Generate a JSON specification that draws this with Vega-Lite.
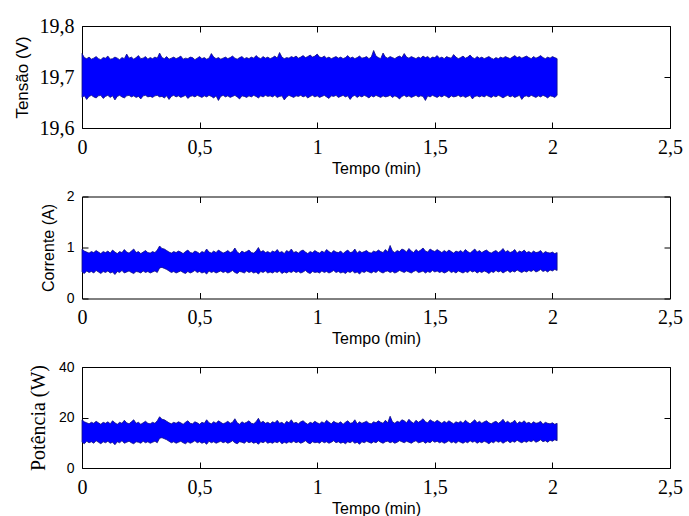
{
"$schema": "https://vega.github.io/schema/vega-lite/v6.json",
"background": "white",
"padding": {"left": 12, "top": 15, "right": 5, "bottom": 2},
"spacing": 68.5,
"bounds": "flush",
"config": {
  "view": {"stroke": "black", "strokeWidth": 1},
  "axis": {"domain": false, "grid": false, "ticks": true, "tickColor": "black", "tickSize": -6, "labelFlush": false, "labelOverlap": false, "labelColor": "black", "titleColor": "black", "titleFontWeight": "normal", "labelFont": "Liberation Serif", "labelFontSize": 20, "titleFont": "Liberation Sans"}
},
"datasets": {"d": [
{"t":0,"vh":19.746,"vl":19.66,"ih":0.97,"il":0.52,"ph":19.1,"pl":10.2},
{"t":0.01,"vh":19.738,"vl":19.663,"ih":0.93,"il":0.49,"ph":18.3,"pl":9.6},
{"t":0.02,"vh":19.736,"vl":19.656,"ih":0.91,"il":0.54,"ph":17.9,"pl":10.6},
{"t":0.03,"vh":19.739,"vl":19.662,"ih":0.89,"il":0.51,"ph":17.5,"pl":10.0},
{"t":0.04,"vh":19.735,"vl":19.664,"ih":0.92,"il":0.53,"ph":18.1,"pl":10.4},
{"t":0.05,"vh":19.737,"vl":19.661,"ih":0.90,"il":0.50,"ph":17.7,"pl":9.8},
{"t":0.06,"vh":19.740,"vl":19.659,"ih":0.94,"il":0.55,"ph":18.5,"pl":10.8},
{"t":0.07,"vh":19.736,"vl":19.663,"ih":0.91,"il":0.52,"ph":17.9,"pl":10.2},
{"t":0.08,"vh":19.734,"vl":19.664,"ih":0.88,"il":0.49,"ph":17.3,"pl":9.6},
{"t":0.09,"vh":19.738,"vl":19.658,"ih":0.92,"il":0.53,"ph":18.1,"pl":10.4},
{"t":0.10,"vh":19.737,"vl":19.662,"ih":0.90,"il":0.51,"ph":17.7,"pl":10.0},
{"t":0.11,"vh":19.741,"vl":19.664,"ih":0.93,"il":0.54,"ph":18.3,"pl":10.6},
{"t":0.12,"vh":19.735,"vl":19.66,"ih":0.89,"il":0.50,"ph":17.5,"pl":9.8},
{"t":0.13,"vh":19.736,"vl":19.663,"ih":0.95,"il":0.52,"ph":18.7,"pl":10.2},
{"t":0.14,"vh":19.739,"vl":19.655,"ih":0.91,"il":0.47,"ph":17.9,"pl":9.2},
{"t":0.15,"vh":19.737,"vl":19.662,"ih":0.88,"il":0.53,"ph":17.3,"pl":10.4},
{"t":0.16,"vh":19.734,"vl":19.664,"ih":0.92,"il":0.51,"ph":18.1,"pl":10.0},
{"t":0.17,"vh":19.738,"vl":19.661,"ih":0.90,"il":0.55,"ph":17.7,"pl":10.8},
{"t":0.18,"vh":19.736,"vl":19.659,"ih":0.96,"il":0.50,"ph":18.9,"pl":9.8},
{"t":0.19,"vh":19.745,"vl":19.663,"ih":0.91,"il":0.52,"ph":17.9,"pl":10.2},
{"t":0.20,"vh":19.737,"vl":19.664,"ih":0.89,"il":0.54,"ph":17.5,"pl":10.6},
{"t":0.21,"vh":19.739,"vl":19.661,"ih":0.93,"il":0.51,"ph":18.3,"pl":10.0},
{"t":0.22,"vh":19.735,"vl":19.663,"ih":0.97,"il":0.49,"ph":19.1,"pl":9.6},
{"t":0.23,"vh":19.738,"vl":19.66,"ih":0.90,"il":0.53,"ph":17.7,"pl":10.4},
{"t":0.24,"vh":19.742,"vl":19.662,"ih":0.92,"il":0.52,"ph":18.1,"pl":10.2},
{"t":0.25,"vh":19.736,"vl":19.657,"ih":0.88,"il":0.50,"ph":17.3,"pl":9.8},
{"t":0.26,"vh":19.737,"vl":19.663,"ih":0.91,"il":0.54,"ph":17.9,"pl":10.6},
{"t":0.27,"vh":19.740,"vl":19.664,"ih":0.94,"il":0.51,"ph":18.5,"pl":10.0},
{"t":0.28,"vh":19.735,"vl":19.661,"ih":0.90,"il":0.53,"ph":17.7,"pl":10.4},
{"t":0.29,"vh":19.738,"vl":19.662,"ih":0.89,"il":0.50,"ph":17.5,"pl":9.8},
{"t":0.30,"vh":19.736,"vl":19.66,"ih":0.92,"il":0.52,"ph":18.1,"pl":10.2},
{"t":0.31,"vh":19.739,"vl":19.663,"ih":0.90,"il":0.54,"ph":17.7,"pl":10.6},
{"t":0.32,"vh":19.737,"vl":19.664,"ih":0.95,"il":0.51,"ph":18.7,"pl":10.0},
{"t":0.33,"vh":19.747,"vl":19.661,"ih":1.03,"il":0.60,"ph":20.3,"pl":11.8},
{"t":0.34,"vh":19.738,"vl":19.662,"ih":0.98,"il":0.61,"ph":19.3,"pl":12.0},
{"t":0.35,"vh":19.736,"vl":19.659,"ih":0.97,"il":0.59,"ph":19.1,"pl":11.6},
{"t":0.36,"vh":19.740,"vl":19.663,"ih":0.94,"il":0.57,"ph":18.5,"pl":11.2},
{"t":0.37,"vh":19.735,"vl":19.656,"ih":0.91,"il":0.54,"ph":17.9,"pl":10.6},
{"t":0.38,"vh":19.737,"vl":19.662,"ih":0.89,"il":0.51,"ph":17.5,"pl":10.0},
{"t":0.39,"vh":19.739,"vl":19.664,"ih":0.92,"il":0.53,"ph":18.1,"pl":10.4},
{"t":0.40,"vh":19.736,"vl":19.661,"ih":0.90,"il":0.50,"ph":17.7,"pl":9.8},
{"t":0.41,"vh":19.738,"vl":19.663,"ih":0.93,"il":0.52,"ph":18.3,"pl":10.2},
{"t":0.42,"vh":19.741,"vl":19.66,"ih":0.91,"il":0.54,"ph":17.9,"pl":10.6},
{"t":0.43,"vh":19.735,"vl":19.662,"ih":0.88,"il":0.51,"ph":17.3,"pl":10.0},
{"t":0.44,"vh":19.737,"vl":19.664,"ih":0.92,"il":0.49,"ph":18.1,"pl":9.6},
{"t":0.45,"vh":19.736,"vl":19.658,"ih":0.95,"il":0.53,"ph":18.7,"pl":10.4},
{"t":0.46,"vh":19.739,"vl":19.662,"ih":0.90,"il":0.50,"ph":17.7,"pl":9.8},
{"t":0.47,"vh":19.738,"vl":19.663,"ih":0.89,"il":0.52,"ph":17.5,"pl":10.2},
{"t":0.48,"vh":19.734,"vl":19.661,"ih":0.93,"il":0.55,"ph":18.3,"pl":10.8},
{"t":0.49,"vh":19.737,"vl":19.664,"ih":0.91,"il":0.51,"ph":17.9,"pl":10.0},
{"t":0.50,"vh":19.740,"vl":19.662,"ih":0.88,"il":0.53,"ph":17.3,"pl":10.4},
{"t":0.51,"vh":19.736,"vl":19.66,"ih":0.92,"il":0.50,"ph":18.1,"pl":9.8},
{"t":0.52,"vh":19.738,"vl":19.663,"ih":0.90,"il":0.52,"ph":17.7,"pl":10.2},
{"t":0.53,"vh":19.735,"vl":19.661,"ih":0.97,"il":0.48,"ph":19.1,"pl":9.4},
{"t":0.54,"vh":19.737,"vl":19.664,"ih":0.91,"il":0.54,"ph":17.9,"pl":10.6},
{"t":0.55,"vh":19.746,"vl":19.662,"ih":0.89,"il":0.51,"ph":17.5,"pl":10.0},
{"t":0.56,"vh":19.739,"vl":19.659,"ih":0.93,"il":0.53,"ph":18.3,"pl":10.4},
{"t":0.57,"vh":19.736,"vl":19.663,"ih":0.90,"il":0.50,"ph":17.7,"pl":9.8},
{"t":0.58,"vh":19.738,"vl":19.654,"ih":0.95,"il":0.52,"ph":18.7,"pl":10.2},
{"t":0.59,"vh":19.735,"vl":19.662,"ih":0.92,"il":0.54,"ph":18.1,"pl":10.6},
{"t":0.60,"vh":19.737,"vl":19.664,"ih":0.89,"il":0.51,"ph":17.5,"pl":10.0},
{"t":0.61,"vh":19.739,"vl":19.661,"ih":0.91,"il":0.53,"ph":17.9,"pl":10.4},
{"t":0.62,"vh":19.736,"vl":19.663,"ih":0.94,"il":0.50,"ph":18.5,"pl":9.8},
{"t":0.63,"vh":19.738,"vl":19.66,"ih":0.90,"il":0.52,"ph":17.7,"pl":10.2},
{"t":0.64,"vh":19.741,"vl":19.662,"ih":0.92,"il":0.55,"ph":18.1,"pl":10.8},
{"t":0.65,"vh":19.737,"vl":19.664,"ih":0.99,"il":0.51,"ph":19.5,"pl":10.0},
{"t":0.66,"vh":19.735,"vl":19.661,"ih":0.91,"il":0.49,"ph":17.9,"pl":9.6},
{"t":0.67,"vh":19.738,"vl":19.657,"ih":0.88,"il":0.53,"ph":17.3,"pl":10.4},
{"t":0.68,"vh":19.740,"vl":19.663,"ih":0.93,"il":0.52,"ph":18.3,"pl":10.2},
{"t":0.69,"vh":19.736,"vl":19.662,"ih":0.90,"il":0.50,"ph":17.7,"pl":9.8},
{"t":0.70,"vh":19.738,"vl":19.66,"ih":0.92,"il":0.54,"ph":18.1,"pl":10.6},
{"t":0.71,"vh":19.736,"vl":19.663,"ih":0.95,"il":0.51,"ph":18.7,"pl":10.0},
{"t":0.72,"vh":19.739,"vl":19.661,"ih":0.90,"il":0.53,"ph":17.7,"pl":10.4},
{"t":0.73,"vh":19.737,"vl":19.664,"ih":0.89,"il":0.50,"ph":17.5,"pl":9.8},
{"t":0.74,"vh":19.742,"vl":19.662,"ih":0.93,"il":0.52,"ph":18.3,"pl":10.2},
{"t":0.75,"vh":19.738,"vl":19.659,"ih":1.00,"il":0.48,"ph":19.7,"pl":9.4},
{"t":0.76,"vh":19.736,"vl":19.663,"ih":0.91,"il":0.53,"ph":17.9,"pl":10.4},
{"t":0.77,"vh":19.740,"vl":19.661,"ih":0.94,"il":0.51,"ph":18.5,"pl":10.0},
{"t":0.78,"vh":19.737,"vl":19.664,"ih":0.90,"il":0.54,"ph":17.7,"pl":10.6},
{"t":0.79,"vh":19.739,"vl":19.662,"ih":0.92,"il":0.50,"ph":18.1,"pl":9.8},
{"t":0.80,"vh":19.736,"vl":19.663,"ih":0.89,"il":0.52,"ph":17.5,"pl":10.2},
{"t":0.81,"vh":19.738,"vl":19.661,"ih":0.93,"il":0.50,"ph":18.3,"pl":9.8},
{"t":0.82,"vh":19.741,"vl":19.664,"ih":0.91,"il":0.53,"ph":17.9,"pl":10.4},
{"t":0.83,"vh":19.737,"vl":19.66,"ih":0.96,"il":0.51,"ph":18.9,"pl":10.0},
{"t":0.84,"vh":19.748,"vl":19.662,"ih":0.90,"il":0.54,"ph":17.7,"pl":10.6},
{"t":0.85,"vh":19.739,"vl":19.663,"ih":0.92,"il":0.49,"ph":18.1,"pl":9.6},
{"t":0.86,"vh":19.736,"vl":19.655,"ih":0.88,"il":0.52,"ph":17.3,"pl":10.2},
{"t":0.87,"vh":19.738,"vl":19.661,"ih":0.94,"il":0.50,"ph":18.5,"pl":9.8},
{"t":0.88,"vh":19.737,"vl":19.664,"ih":0.91,"il":0.53,"ph":17.9,"pl":10.4},
{"t":0.89,"vh":19.740,"vl":19.662,"ih":0.97,"il":0.51,"ph":19.1,"pl":10.0},
{"t":0.90,"vh":19.738,"vl":19.66,"ih":0.90,"il":0.54,"ph":17.7,"pl":10.6},
{"t":0.91,"vh":19.741,"vl":19.663,"ih":0.92,"il":0.51,"ph":18.1,"pl":10.0},
{"t":0.92,"vh":19.737,"vl":19.662,"ih":0.89,"il":0.53,"ph":17.5,"pl":10.4},
{"t":0.93,"vh":19.739,"vl":19.664,"ih":0.93,"il":0.50,"ph":18.3,"pl":9.8},
{"t":0.94,"vh":19.742,"vl":19.661,"ih":0.95,"il":0.52,"ph":18.7,"pl":10.2},
{"t":0.95,"vh":19.738,"vl":19.663,"ih":0.91,"il":0.55,"ph":17.9,"pl":10.8},
{"t":0.96,"vh":19.740,"vl":19.659,"ih":0.88,"il":0.51,"ph":17.3,"pl":10.0},
{"t":0.97,"vh":19.743,"vl":19.662,"ih":0.92,"il":0.49,"ph":18.1,"pl":9.6},
{"t":0.98,"vh":19.739,"vl":19.664,"ih":0.90,"il":0.53,"ph":17.7,"pl":10.4},
{"t":0.99,"vh":19.741,"vl":19.661,"ih":0.94,"il":0.51,"ph":18.5,"pl":10.0},
{"t":1.00,"vh":19.745,"vl":19.663,"ih":0.91,"il":0.52,"ph":17.9,"pl":10.2},
{"t":1.01,"vh":19.739,"vl":19.66,"ih":0.89,"il":0.50,"ph":17.5,"pl":9.8},
{"t":1.02,"vh":19.738,"vl":19.662,"ih":0.93,"il":0.54,"ph":18.3,"pl":10.6},
{"t":1.03,"vh":19.741,"vl":19.664,"ih":0.90,"il":0.51,"ph":17.7,"pl":10.0},
{"t":1.04,"vh":19.737,"vl":19.661,"ih":0.96,"il":0.53,"ph":18.9,"pl":10.4},
{"t":1.05,"vh":19.739,"vl":19.658,"ih":0.92,"il":0.50,"ph":18.1,"pl":9.8},
{"t":1.06,"vh":19.736,"vl":19.663,"ih":0.89,"il":0.52,"ph":17.5,"pl":10.2},
{"t":1.07,"vh":19.738,"vl":19.662,"ih":0.94,"il":0.55,"ph":18.5,"pl":10.8},
{"t":1.08,"vh":19.740,"vl":19.664,"ih":0.91,"il":0.51,"ph":17.9,"pl":10.0},
{"t":1.09,"vh":19.737,"vl":19.66,"ih":0.90,"il":0.53,"ph":17.7,"pl":10.4},
{"t":1.10,"vh":19.739,"vl":19.662,"ih":0.93,"il":0.50,"ph":18.3,"pl":9.8},
{"t":1.11,"vh":19.736,"vl":19.664,"ih":0.88,"il":0.52,"ph":17.3,"pl":10.2},
{"t":1.12,"vh":19.738,"vl":19.661,"ih":0.92,"il":0.49,"ph":18.1,"pl":9.6},
{"t":1.13,"vh":19.742,"vl":19.663,"ih":0.95,"il":0.53,"ph":18.7,"pl":10.4},
{"t":1.14,"vh":19.737,"vl":19.656,"ih":0.90,"il":0.51,"ph":17.7,"pl":10.0},
{"t":1.15,"vh":19.739,"vl":19.662,"ih":0.91,"il":0.54,"ph":17.9,"pl":10.6},
{"t":1.16,"vh":19.736,"vl":19.664,"ih":0.97,"il":0.50,"ph":19.1,"pl":9.8},
{"t":1.17,"vh":19.738,"vl":19.66,"ih":0.89,"il":0.52,"ph":17.5,"pl":10.2},
{"t":1.18,"vh":19.741,"vl":19.663,"ih":0.93,"il":0.48,"ph":18.3,"pl":9.4},
{"t":1.19,"vh":19.737,"vl":19.661,"ih":0.90,"il":0.53,"ph":17.7,"pl":10.4},
{"t":1.20,"vh":19.738,"vl":19.664,"ih":0.92,"il":0.51,"ph":18.1,"pl":10.0},
{"t":1.21,"vh":19.740,"vl":19.662,"ih":0.94,"il":0.54,"ph":18.5,"pl":10.6},
{"t":1.22,"vh":19.736,"vl":19.659,"ih":0.90,"il":0.52,"ph":17.7,"pl":10.2},
{"t":1.23,"vh":19.739,"vl":19.663,"ih":0.89,"il":0.50,"ph":17.5,"pl":9.8},
{"t":1.24,"vh":19.752,"vl":19.661,"ih":0.93,"il":0.53,"ph":18.3,"pl":10.4},
{"t":1.25,"vh":19.741,"vl":19.664,"ih":0.91,"il":0.51,"ph":17.9,"pl":10.0},
{"t":1.26,"vh":19.738,"vl":19.662,"ih":0.95,"il":0.55,"ph":18.7,"pl":10.8},
{"t":1.27,"vh":19.736,"vl":19.66,"ih":0.92,"il":0.52,"ph":18.1,"pl":10.2},
{"t":1.28,"vh":19.747,"vl":19.663,"ih":0.90,"il":0.50,"ph":17.7,"pl":9.8},
{"t":1.29,"vh":19.739,"vl":19.661,"ih":0.96,"il":0.53,"ph":18.9,"pl":10.4},
{"t":1.30,"vh":19.737,"vl":19.662,"ih":0.91,"il":0.54,"ph":17.9,"pl":10.6},
{"t":1.31,"vh":19.740,"vl":19.664,"ih":1.04,"il":0.51,"ph":20.5,"pl":10.0},
{"t":1.32,"vh":19.738,"vl":19.66,"ih":0.93,"il":0.53,"ph":18.3,"pl":10.4},
{"t":1.33,"vh":19.736,"vl":19.663,"ih":0.90,"il":0.50,"ph":17.7,"pl":9.8},
{"t":1.34,"vh":19.739,"vl":19.661,"ih":0.94,"il":0.52,"ph":18.5,"pl":10.2},
{"t":1.35,"vh":19.741,"vl":19.657,"ih":0.92,"il":0.55,"ph":18.1,"pl":10.8},
{"t":1.36,"vh":19.738,"vl":19.662,"ih":0.97,"il":0.53,"ph":19.1,"pl":10.4},
{"t":1.37,"vh":19.746,"vl":19.664,"ih":0.95,"il":0.51,"ph":18.7,"pl":10.0},
{"t":1.38,"vh":19.739,"vl":19.661,"ih":0.91,"il":0.54,"ph":17.9,"pl":10.6},
{"t":1.39,"vh":19.737,"vl":19.663,"ih":0.98,"il":0.52,"ph":19.3,"pl":10.2},
{"t":1.40,"vh":19.740,"vl":19.66,"ih":0.93,"il":0.50,"ph":18.3,"pl":9.8},
{"t":1.41,"vh":19.738,"vl":19.662,"ih":0.90,"il":0.53,"ph":17.7,"pl":10.4},
{"t":1.42,"vh":19.736,"vl":19.664,"ih":0.96,"il":0.55,"ph":18.9,"pl":10.8},
{"t":1.43,"vh":19.739,"vl":19.661,"ih":0.92,"il":0.51,"ph":18.1,"pl":10.0},
{"t":1.44,"vh":19.737,"vl":19.663,"ih":0.95,"il":0.52,"ph":18.7,"pl":10.2},
{"t":1.45,"vh":19.741,"vl":19.662,"ih":0.99,"il":0.54,"ph":19.5,"pl":10.6},
{"t":1.46,"vh":19.738,"vl":19.654,"ih":0.93,"il":0.50,"ph":18.3,"pl":9.8},
{"t":1.47,"vh":19.740,"vl":19.663,"ih":0.91,"il":0.53,"ph":17.9,"pl":10.4},
{"t":1.48,"vh":19.736,"vl":19.661,"ih":0.97,"il":0.51,"ph":19.1,"pl":10.0},
{"t":1.49,"vh":19.739,"vl":19.664,"ih":0.94,"il":0.55,"ph":18.5,"pl":10.8},
{"t":1.50,"vh":19.738,"vl":19.662,"ih":0.92,"il":0.52,"ph":18.1,"pl":10.2},
{"t":1.51,"vh":19.742,"vl":19.66,"ih":0.96,"il":0.54,"ph":18.9,"pl":10.6},
{"t":1.52,"vh":19.737,"vl":19.663,"ih":0.93,"il":0.51,"ph":18.3,"pl":10.0},
{"t":1.53,"vh":19.739,"vl":19.661,"ih":0.90,"il":0.53,"ph":17.7,"pl":10.4},
{"t":1.54,"vh":19.736,"vl":19.664,"ih":0.94,"il":0.50,"ph":18.5,"pl":9.8},
{"t":1.55,"vh":19.740,"vl":19.662,"ih":0.91,"il":0.52,"ph":17.9,"pl":10.2},
{"t":1.56,"vh":19.738,"vl":19.659,"ih":0.95,"il":0.55,"ph":18.7,"pl":10.8},
{"t":1.57,"vh":19.737,"vl":19.663,"ih":0.92,"il":0.51,"ph":18.1,"pl":10.0},
{"t":1.58,"vh":19.744,"vl":19.661,"ih":0.89,"il":0.53,"ph":17.5,"pl":10.4},
{"t":1.59,"vh":19.739,"vl":19.662,"ih":0.93,"il":0.50,"ph":18.3,"pl":9.8},
{"t":1.60,"vh":19.736,"vl":19.664,"ih":0.91,"il":0.54,"ph":17.9,"pl":10.6},
{"t":1.61,"vh":19.738,"vl":19.661,"ih":0.94,"il":0.52,"ph":18.5,"pl":10.2},
{"t":1.62,"vh":19.741,"vl":19.663,"ih":0.90,"il":0.50,"ph":17.7,"pl":9.8},
{"t":1.63,"vh":19.737,"vl":19.66,"ih":0.96,"il":0.53,"ph":18.9,"pl":10.4},
{"t":1.64,"vh":19.739,"vl":19.662,"ih":0.92,"il":0.51,"ph":18.1,"pl":10.0},
{"t":1.65,"vh":19.743,"vl":19.664,"ih":0.89,"il":0.55,"ph":17.5,"pl":10.8},
{"t":1.66,"vh":19.738,"vl":19.657,"ih":0.93,"il":0.52,"ph":18.3,"pl":10.2},
{"t":1.67,"vh":19.736,"vl":19.662,"ih":0.97,"il":0.54,"ph":19.1,"pl":10.6},
{"t":1.68,"vh":19.740,"vl":19.663,"ih":0.91,"il":0.50,"ph":17.9,"pl":9.8},
{"t":1.69,"vh":19.737,"vl":19.661,"ih":0.94,"il":0.53,"ph":18.5,"pl":10.4},
{"t":1.70,"vh":19.739,"vl":19.663,"ih":0.90,"il":0.51,"ph":17.7,"pl":10.0},
{"t":1.71,"vh":19.736,"vl":19.661,"ih":0.93,"il":0.54,"ph":18.3,"pl":10.6},
{"t":1.72,"vh":19.738,"vl":19.664,"ih":0.95,"il":0.52,"ph":18.7,"pl":10.2},
{"t":1.73,"vh":19.740,"vl":19.662,"ih":0.91,"il":0.49,"ph":17.9,"pl":9.6},
{"t":1.74,"vh":19.737,"vl":19.66,"ih":0.89,"il":0.53,"ph":17.5,"pl":10.4},
{"t":1.75,"vh":19.735,"vl":19.663,"ih":0.92,"il":0.51,"ph":18.1,"pl":10.0},
{"t":1.76,"vh":19.738,"vl":19.661,"ih":0.94,"il":0.55,"ph":18.5,"pl":10.8},
{"t":1.77,"vh":19.736,"vl":19.664,"ih":0.90,"il":0.52,"ph":17.7,"pl":10.2},
{"t":1.78,"vh":19.739,"vl":19.662,"ih":0.93,"il":0.54,"ph":18.3,"pl":10.6},
{"t":1.79,"vh":19.737,"vl":19.659,"ih":0.98,"il":0.50,"ph":19.3,"pl":9.8},
{"t":1.80,"vh":19.740,"vl":19.662,"ih":0.91,"il":0.53,"ph":17.9,"pl":10.4},
{"t":1.81,"vh":19.738,"vl":19.664,"ih":0.94,"il":0.55,"ph":18.5,"pl":10.8},
{"t":1.82,"vh":19.736,"vl":19.661,"ih":0.90,"il":0.51,"ph":17.7,"pl":10.0},
{"t":1.83,"vh":19.739,"vl":19.663,"ih":0.92,"il":0.54,"ph":18.1,"pl":10.6},
{"t":1.84,"vh":19.742,"vl":19.66,"ih":0.96,"il":0.52,"ph":18.9,"pl":10.2},
{"t":1.85,"vh":19.738,"vl":19.662,"ih":0.89,"il":0.56,"ph":17.5,"pl":11.0},
{"t":1.86,"vh":19.740,"vl":19.664,"ih":0.93,"il":0.53,"ph":18.3,"pl":10.4},
{"t":1.87,"vh":19.737,"vl":19.656,"ih":0.91,"il":0.51,"ph":17.9,"pl":10.0},
{"t":1.88,"vh":19.739,"vl":19.662,"ih":0.95,"il":0.54,"ph":18.7,"pl":10.6},
{"t":1.89,"vh":19.741,"vl":19.663,"ih":0.90,"il":0.52,"ph":17.7,"pl":10.2},
{"t":1.90,"vh":19.738,"vl":19.661,"ih":0.92,"il":0.55,"ph":18.1,"pl":10.8},
{"t":1.91,"vh":19.736,"vl":19.664,"ih":0.89,"il":0.53,"ph":17.5,"pl":10.4},
{"t":1.92,"vh":19.740,"vl":19.662,"ih":0.93,"il":0.56,"ph":18.3,"pl":11.0},
{"t":1.93,"vh":19.737,"vl":19.66,"ih":0.90,"il":0.52,"ph":17.7,"pl":10.2},
{"t":1.94,"vh":19.739,"vl":19.663,"ih":0.91,"il":0.54,"ph":17.9,"pl":10.6},
{"t":1.95,"vh":19.742,"vl":19.661,"ih":0.94,"il":0.57,"ph":18.5,"pl":11.2},
{"t":1.96,"vh":19.738,"vl":19.664,"ih":0.88,"il":0.53,"ph":17.3,"pl":10.4},
{"t":1.97,"vh":19.736,"vl":19.662,"ih":0.92,"il":0.55,"ph":18.1,"pl":10.8},
{"t":1.98,"vh":19.739,"vl":19.659,"ih":0.90,"il":0.52,"ph":17.7,"pl":10.2},
{"t":1.99,"vh":19.737,"vl":19.663,"ih":0.89,"il":0.56,"ph":17.5,"pl":11.0},
{"t":2.00,"vh":19.740,"vl":19.662,"ih":0.91,"il":0.54,"ph":17.9,"pl":10.6},
{"t":2.01,"vh":19.738,"vl":19.66,"ih":0.88,"il":0.57,"ph":17.3,"pl":11.2},
{"t":2.02,"vh":19.736,"vl":19.664,"ih":0.90,"il":0.55,"ph":17.7,"pl":10.8}
]},
"vconcat": [
{
  "width": 588, "height": 102,
  "data": {"name": "d"},
  "layer": [
    {"mark": {"type": "area", "color": "#0000ff", "stroke": "#101080", "strokeWidth": 0.8},
     "encoding": {
       "x": {"field": "t", "type": "quantitative", "scale": {"domain": [0, 2.5], "nice": false}, "axis": {"values": [0, 0.5, 1, 1.5, 2, 2.5], "labelExpr": "replace(format(datum.value, '~g'), '.', ',')", "title": "Tempo (min)", "titleFontSize": 16, "labelPadding": 15, "titlePadding": 3}},
       "y": {"field": "vl", "type": "quantitative", "scale": {"domain": [19.6, 19.8], "nice": false, "zero": false}, "axis": {"values": [19.6, 19.7, 19.8], "labelExpr": "replace(format(datum.value, '.1f'), '.', ',')", "title": "Tensão (V)", "titleFontSize": 17, "labelPadding": 14, "titlePadding": 8}},
       "y2": {"field": "vh"}
     }},
    {"mark": {"type": "point", "opacity": 0},
     "encoding": {
       "x": {"field": "t", "type": "quantitative", "scale": {"domain": [0, 2.5], "nice": false}, "axis": {"orient": "top", "values": [0, 0.5, 1, 1.5, 2, 2.5], "labels": false, "title": null}},
       "y": {"field": "vl", "type": "quantitative", "scale": {"domain": [19.6, 19.8], "nice": false, "zero": false}, "axis": {"orient": "right", "values": [19.6, 19.7, 19.8], "labels": false, "title": null}}
     }}
  ],
  "resolve": {"axis": {"x": "independent", "y": "independent"}}
},
{
  "width": 588, "height": 102,
  "data": {"name": "d"},
  "layer": [
    {"mark": {"type": "area", "color": "#0000ff", "stroke": "#101080", "strokeWidth": 0.8},
     "encoding": {
       "x": {"field": "t", "type": "quantitative", "scale": {"domain": [0, 2.5], "nice": false}, "axis": {"values": [0, 0.5, 1, 1.5, 2, 2.5], "labelExpr": "replace(format(datum.value, '~g'), '.', ',')", "title": "Tempo (min)", "titleFontSize": 16, "labelPadding": 15, "titlePadding": 3}},
       "y": {"field": "il", "type": "quantitative", "scale": {"domain": [0, 2], "nice": false}, "axis": {"values": [0, 1, 2], "labelExpr": "format(datum.value, 'd')", "labelFont": "Liberation Sans", "labelFontSize": 14, "title": "Corrente (A)", "titleFontSize": 16, "labelPadding": 14, "titlePadding": 10}},
       "y2": {"field": "ih"}
     }},
    {"mark": {"type": "point", "opacity": 0},
     "encoding": {
       "x": {"field": "t", "type": "quantitative", "scale": {"domain": [0, 2.5], "nice": false}, "axis": {"orient": "top", "values": [0, 0.5, 1, 1.5, 2, 2.5], "labels": false, "title": null}},
       "y": {"field": "il", "type": "quantitative", "scale": {"domain": [0, 2], "nice": false}, "axis": {"orient": "right", "values": [0, 1, 2], "labels": false, "title": null}}
     }}
  ],
  "resolve": {"axis": {"x": "independent", "y": "independent"}}
},
{
  "width": 588, "height": 101,
  "data": {"name": "d"},
  "layer": [
    {"mark": {"type": "area", "color": "#0000ff", "stroke": "#101080", "strokeWidth": 0.8},
     "encoding": {
       "x": {"field": "t", "type": "quantitative", "scale": {"domain": [0, 2.5], "nice": false}, "axis": {"values": [0, 0.5, 1, 1.5, 2, 2.5], "labelExpr": "replace(format(datum.value, '~g'), '.', ',')", "title": "Tempo (min)", "titleFontSize": 16, "labelPadding": 15, "titlePadding": 3}},
       "y": {"field": "pl", "type": "quantitative", "scale": {"domain": [0, 40], "nice": false}, "axis": {"values": [0, 20, 40], "labelExpr": "format(datum.value, 'd')", "labelFont": "Liberation Sans", "labelFontSize": 14, "title": "Potência (W)", "titleFont": "Liberation Serif", "titleFontSize": 20, "labelPadding": 14, "titlePadding": 10}},
       "y2": {"field": "ph"}
     }},
    {"mark": {"type": "point", "opacity": 0},
     "encoding": {
       "x": {"field": "t", "type": "quantitative", "scale": {"domain": [0, 2.5], "nice": false}, "axis": {"orient": "top", "values": [0, 0.5, 1, 1.5, 2, 2.5], "labels": false, "title": null}},
       "y": {"field": "pl", "type": "quantitative", "scale": {"domain": [0, 40], "nice": false}, "axis": {"orient": "right", "values": [0, 20, 40], "labels": false, "title": null}}
     }}
  ],
  "resolve": {"axis": {"x": "independent", "y": "independent"}}
}
]
}
